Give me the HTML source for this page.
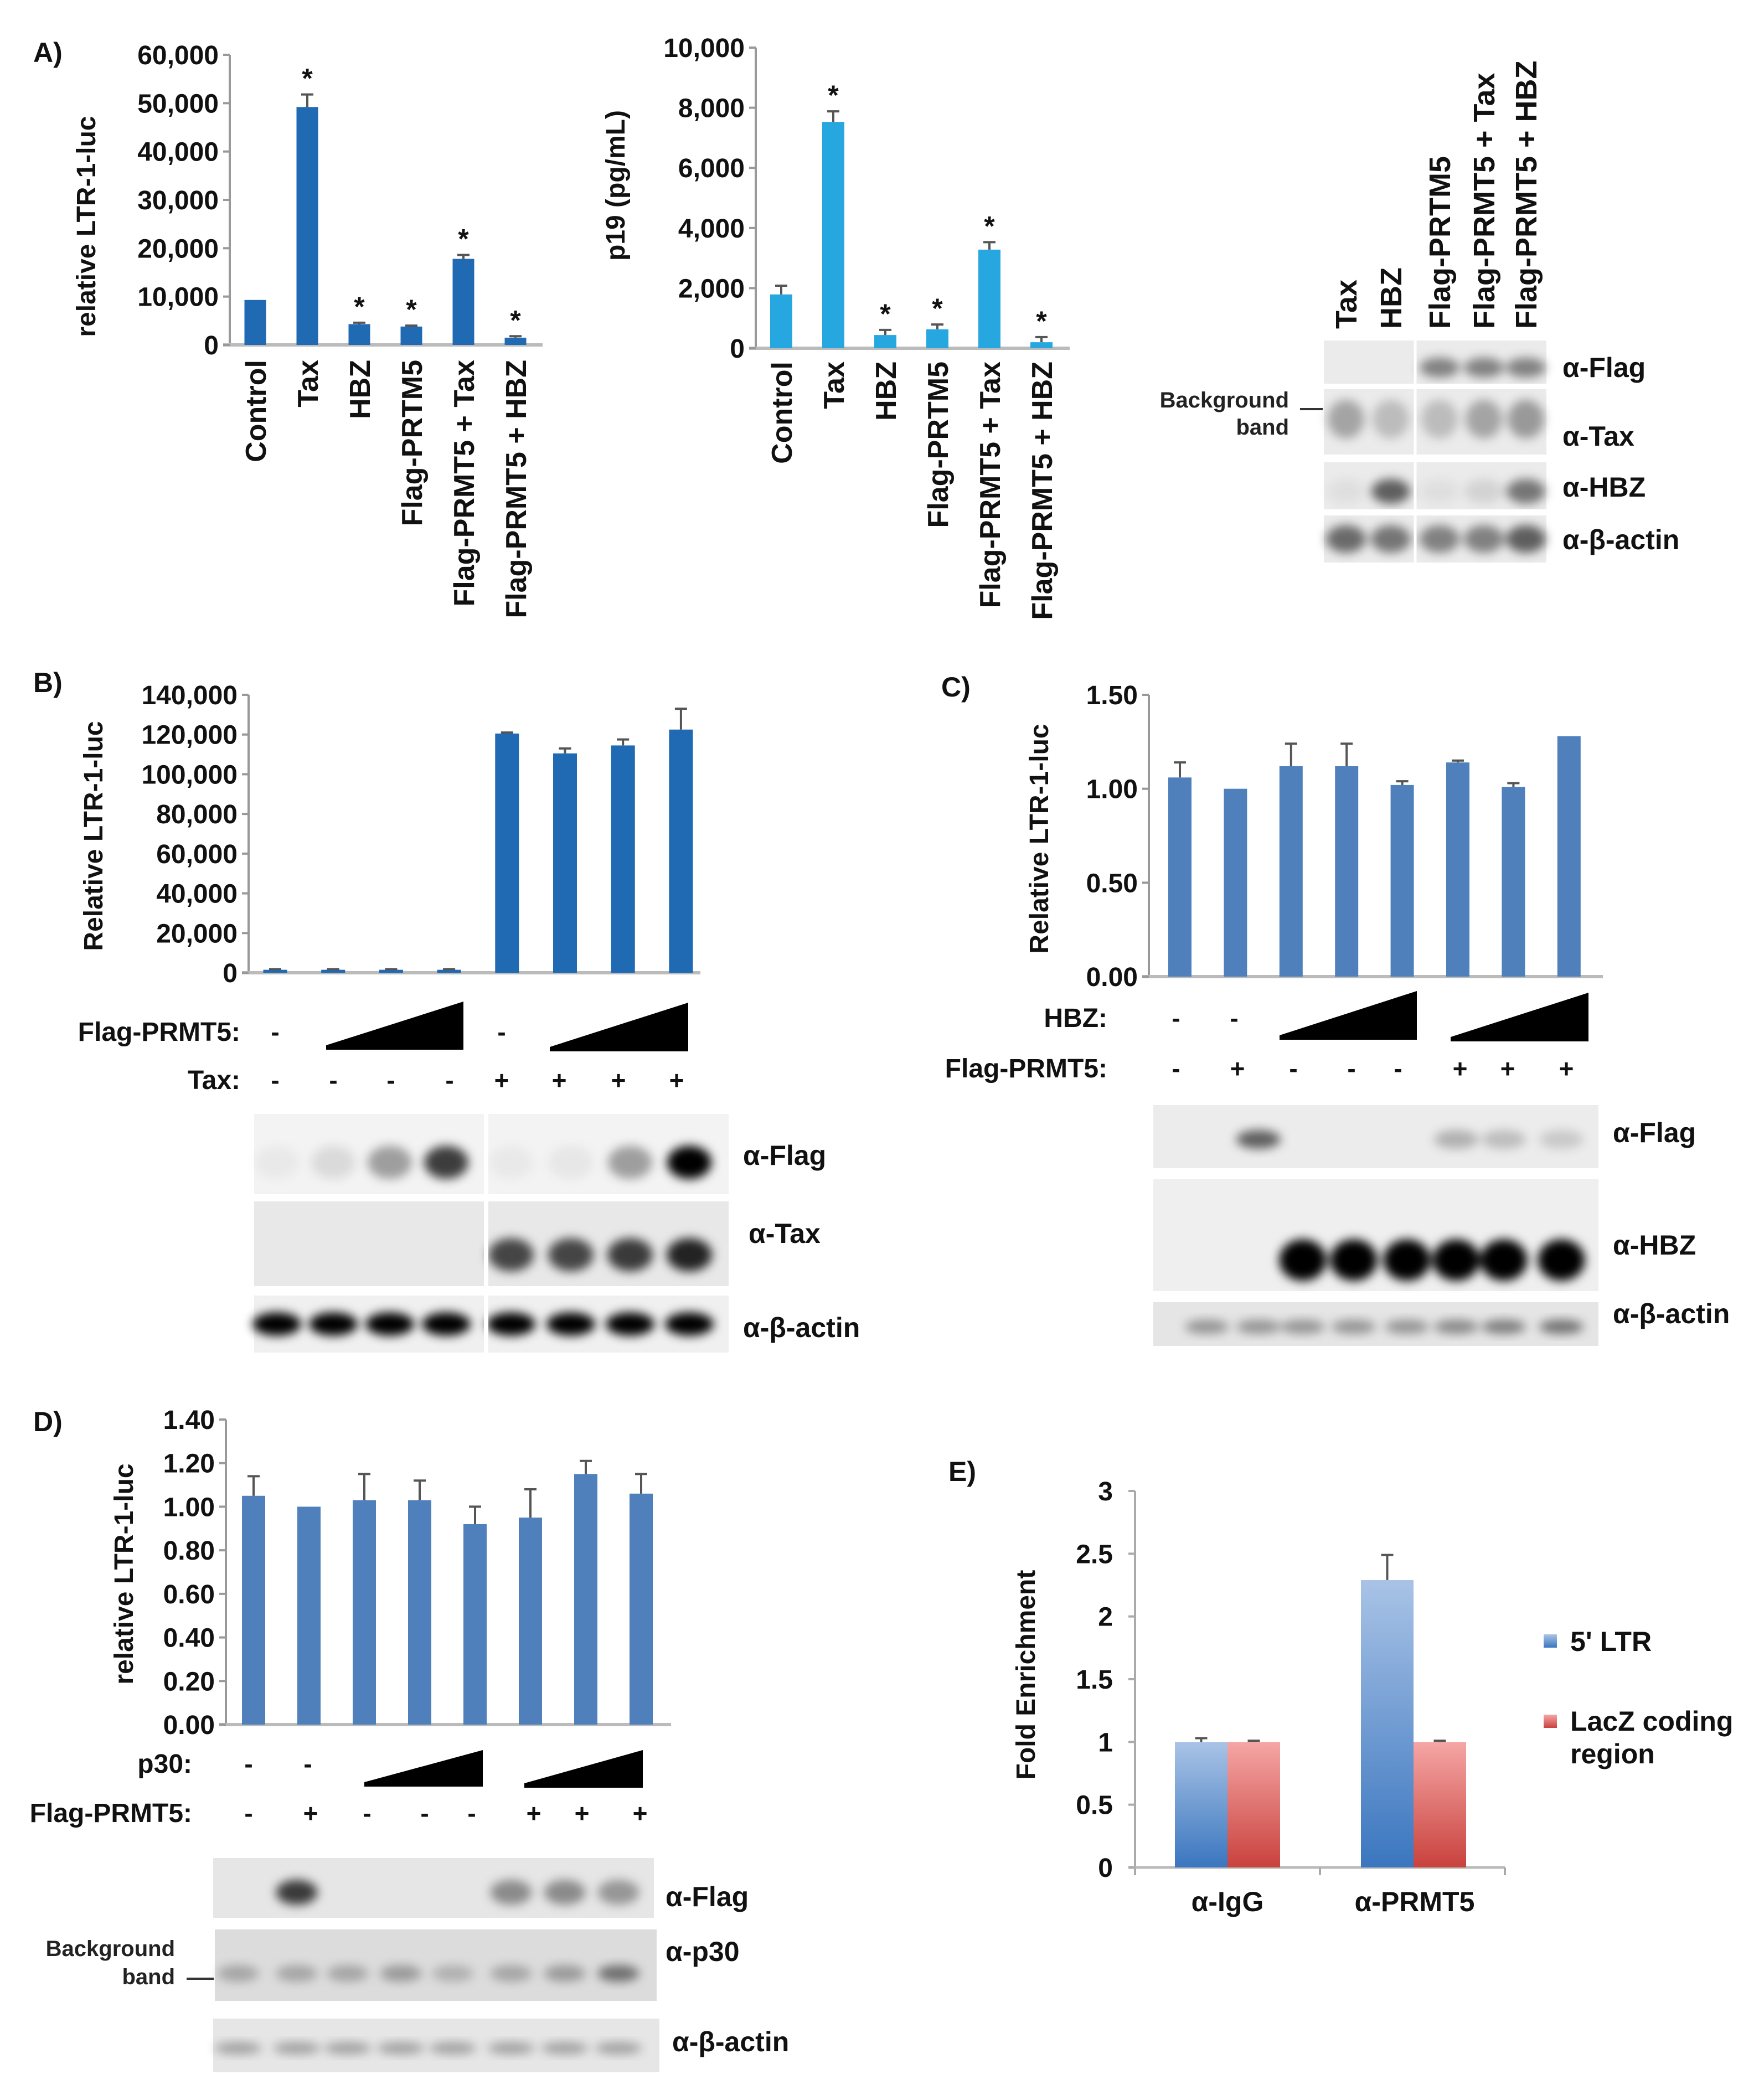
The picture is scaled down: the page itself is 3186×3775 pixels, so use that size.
<!DOCTYPE html>
<html><head><meta charset="utf-8"><style>
html,body{margin:0;padding:0;background:#fff;}
svg{display:block;font-family:"Liberation Sans",Arial,sans-serif;font-weight:bold;}
</style></head><body>
<svg id="fig" xmlns="http://www.w3.org/2000/svg" width="3186" height="3775" viewBox="0 0 3186 3775">
<defs>
<filter id="blur" x="-50%" y="-50%" width="200%" height="200%"><feGaussianBlur stdDeviation="9"/></filter>
<linearGradient id="gBlue" x1="0" y1="0" x2="0" y2="1"><stop offset="0" stop-color="#a9c3e6"/><stop offset="1" stop-color="#3a76bf"/></linearGradient>
<linearGradient id="gRed" x1="0" y1="0" x2="0" y2="1"><stop offset="0" stop-color="#f5a6a5"/><stop offset="1" stop-color="#c9423d"/></linearGradient>
</defs>
<g font-size="50" fill="#111">
<text x="60" y="112">A)</text>
<text x="60" y="1250">B)</text>
<text x="1700" y="1258">C)</text>
<text x="60" y="2585">D)</text>
<text x="1713" y="2675">E)</text>
</g>
<g font-size="48" fill="#111" text-anchor="middle">
<text transform="translate(172,409) rotate(-90)">relative LTR-1-luc</text>
<text transform="translate(1128,335) rotate(-90)">p19 (pg/mL)</text>
<text transform="translate(185,1510) rotate(-90)">Relative  LTR-1-luc</text>
<text transform="translate(1893,1515) rotate(-90)">Relative LTR-1-luc</text>
<text transform="translate(240,2843) rotate(-90)">relative LTR-1-luc</text>
<text transform="translate(1869,3025) rotate(-90)">Fold Enrichment</text>
</g>
<g font-size="48" fill="#111" text-anchor="end">
<text x="434" y="1880">Flag-PRMT5:</text>
<text x="434" y="1967">Tax:</text>
<text x="2000" y="1855">HBZ:</text>
<text x="2000" y="1946">Flag-PRMT5:</text>
<text x="347" y="3202">p30:</text>
<text x="347" y="3291">Flag-PRMT5:</text>
</g>
<g font-size="50" fill="#111">
<text x="2822" y="681">α-Flag</text>
<text x="2822" y="805">α-Tax</text>
<text x="2822" y="897">α-HBZ</text>
<text x="2822" y="992">α-β-actin</text>
<text x="1342" y="2104">α-Flag</text>
<text x="1352" y="2245">α-Tax</text>
<text x="1342" y="2415">α-β-actin</text>
<text x="2913" y="2063">α-Flag</text>
<text x="2913" y="2266">α-HBZ</text>
<text x="2913" y="2390">α-β-actin</text>
<text x="1202" y="3443">α-Flag</text>
<text x="1202" y="3542">α-p30</text>
<text x="1214" y="3705">α-β-actin</text>
</g>
<g font-size="40" fill="#222" text-anchor="end">
<text x="2328" y="736">Background</text>
<text x="2328" y="785">band</text>
<text x="316" y="3533">Background</text>
<text x="316" y="3584">band</text>
</g>
<line x1="2348" y1="739" x2="2389" y2="739" stroke="#333" stroke-width="4"/>
<line x1="337" y1="3574" x2="386" y2="3574" stroke="#333" stroke-width="4"/>
<g font-size="50" fill="#111">
<rect x="2788" y="2952" width="24" height="24" fill="url(#gBlue)"/>
<text x="2836" y="2982">5' LTR</text>
<rect x="2788" y="3097" width="24" height="24" fill="url(#gRed)"/>
<text x="2836" y="3126">LacZ coding</text>
<text x="2836" y="3185">region</text>
</g>
<g id="charts"></g>
</svg>
<script>
const NS='http://www.w3.org/2000/svg';
// ---- data ----
const aCats=['Control','Tax','HBZ','Flag-PRTM5','Flag-PRMT5 + Tax','Flag-PRMT5 + HBZ'];
const aLucVals=[9300,49200,4300,3800,17800,1500];
const aLucErr=[9300,51800,4600,4000,18600,1800];
const aLucStars=[0,1,1,1,1,1];
const aLucTicks=[0,10000,20000,30000,40000,50000,60000];
const aLucTickLabels=['0','10,000','20,000','30,000','40,000','50,000','60,000'];
const aP19Vals=[1790,7530,440,630,3280,200];
const aP19Err=[2080,7880,610,790,3530,370];
const aP19Stars=[0,1,1,1,1,1];
const aP19Ticks=[0,2000,4000,6000,8000,10000];
const aP19TickLabels=['0','2,000','4,000','6,000','8,000','10,000'];
const bVals=[1500,1500,1500,1500,120500,110500,114500,122500];
const bErr=[1800,1800,1800,1800,121000,113000,117500,133000];
const bTicks=[0,20000,40000,60000,80000,100000,120000,140000];
const bTickLabels=['0','20,000','40,000','60,000','80,000','100,000','120,000','140,000'];
const bFlagSigns=['-','','','','-','','',''];
const bTaxSigns=['-','-','-','-','+','+','+','+'];
const cVals=[1.06,1.00,1.12,1.12,1.02,1.14,1.01,1.28];
const cErr=[1.14,1.00,1.24,1.24,1.04,1.15,1.03,1.28];
const cTicks=[0,0.5,1.0,1.5];
const cTickLabels=['0.00','0.50','1.00','1.50'];
const cHbzSigns=['-','-','','','','','',''];
const cFlagSigns=['-','+','-','-','-','+','+','+'];
const dVals=[1.05,1.00,1.03,1.03,0.92,0.95,1.15,1.06];
const dErr=[1.14,1.00,1.15,1.12,1.00,1.08,1.21,1.15];
const dTicks=[0,0.2,0.4,0.6,0.8,1.0,1.2,1.4];
const dTickLabels=['0.00','0.20','0.40','0.60','0.80','1.00','1.20','1.40'];
const dP30Signs=['-','-','','','','','',''];
const dFlagSigns=['-','+','-','-','-','+','+','+'];
const eGroups=['α-IgG','α-PRMT5'];
const eLTR=[1.0,2.29];
const eLTRErr=[1.03,2.49];
const eLacZ=[1.0,1.0];
const eLacZErr=[1.01,1.01];
const eTicks=[0,0.5,1,1.5,2,2.5,3];
const eTickLabels=['0','0.5','1','1.5','2','2.5','3'];
const aBlotLanes=['Tax','HBZ','Flag-PRTM5','Flag-PRMT5 + Tax','Flag-PRMT5 + HBZ'];

const root=document.getElementById('charts');
function mk(tag,attrs,parent){const e=document.createElementNS(NS,tag);for(const k in attrs)e.setAttribute(k,attrs[k]);(parent||root).appendChild(e);return e;}
function txt(x,y,s,size,anchor,parent,rot){const t=mk('text',{x:x,y:y,'font-size':size,'text-anchor':anchor,fill:'#111'},parent);if(rot)t.setAttribute('transform','rotate(-90 '+x+' '+y+')');t.textContent=s;return t;}

function barChart(pfx,c){
  const g=mk('g',{});
  
  
  const y=v=>c.y0-(v/c.max)*(c.y0-c.yTop);
  const ax=mk('line',{x1:c.ax,y1:c.yTop,x2:c.ax,y2:c.y0,stroke:'#999','stroke-width':4},g);
  
  
  const base=mk('line',{x1:c.ax-12,y1:c.y0,x2:c.baseEnd,y2:c.y0,stroke:'#bbb','stroke-width':6},g);
  
  
  c.ticks.forEach((t,i)=>{
    const tk=mk('line',{x1:c.ax-12,y1:y(t),x2:c.ax,y2:y(t),stroke:'#999','stroke-width':4},g);
    
    
    const tl=txt(c.ax-20,y(t)+17,c.tickLabels[i],48,'end',g);
    
    
  });
  c.vals.forEach((v,i)=>{
    const cx=c.x0+i*c.step;
    const b=mk('rect',{x:cx-c.bw/2,y:y(v),width:c.bw,height:c.y0-y(v),fill:c.color},g);
    
    
    const e=c.errs[i];
    if(e>v){
      const el=mk('path',{d:'M'+cx+' '+y(v)+'V'+y(e)+'M'+(cx-11)+' '+y(e)+'H'+(cx+11),stroke:'#555','stroke-width':4,fill:'none'},g);
      
      
    }
    if(c.stars&&c.stars[i]){
      const s=txt(cx,y(e)-12,'*',50,'middle',g);
      
      
    }
    if(c.cats){
      const cl=txt(cx+19,c.catY,c.cats[i],52,'end',g,true);
      
      
    }
  });
}
barChart('a-luc',{ax:415,y0:623,yTop:99,max:60000,ticks:aLucTicks,tickLabels:aLucTickLabels,x0:461,step:94,bw:39,color:'#1f6ab3',vals:aLucVals,errs:aLucErr,stars:aLucStars,baseEnd:980,cats:aCats,catY:650});
barChart('a-p19',{ax:1365,y0:629,yTop:86,max:10000,ticks:aP19Ticks,tickLabels:aP19TickLabels,x0:1411,step:94,bw:40,color:'#27a7df',vals:aP19Vals,errs:aP19Err,stars:aP19Stars,baseEnd:1932,cats:aCats,catY:653});
barChart('b',{ax:449,y0:1757,yTop:1255,max:140000,ticks:bTicks,tickLabels:bTickLabels,x0:497,step:104.7,bw:43,color:'#1f6ab3',vals:bVals,errs:bErr,baseEnd:1265});
barChart('c',{ax:2075,y0:1764,yTop:1255,max:1.5,ticks:cTicks,tickLabels:cTickLabels,x0:2131,step:100.4,bw:42,color:'#4f80bc',vals:cVals,errs:cErr,baseEnd:2895});
barChart('d',{ax:408,y0:3115,yTop:2564,max:1.4,ticks:dTicks,tickLabels:dTickLabels,x0:458,step:100,bw:42,color:'#4f80bc',vals:dVals,errs:dErr,baseEnd:1212});

(function(){
  const g=mk('g',{});
  
  
  const y0=3373,yTop=2693,max=3,ax=2050;
  const y=v=>y0-(v/max)*(y0-yTop);
  const a=mk('line',{x1:ax,y1:yTop,x2:ax,y2:y0,stroke:'#aaa','stroke-width':4},g);
  
  
  const b=mk('line',{x1:ax-12,y1:y0,x2:2718,y2:y0,stroke:'#bbb','stroke-width':5},g);
  
  
  [ax,2384,2718].forEach(x=>{const t=mk('line',{x1:x,y1:y0,x2:x,y2:y0+14,stroke:'#aaa','stroke-width':4},g);
    
    });
  eTicks.forEach((t,i)=>{
    const tk=mk('line',{x1:ax-12,y1:y(t),x2:ax,y2:y(t),stroke:'#aaa','stroke-width':4},g);
    
    
    const tl=txt(ax-40,y(t)+17,eTickLabels[i],48,'end',g);
    
    
  });
  eGroups.forEach((nm,i)=>{
    const cx=2217+i*336, bw=95;
    const series=[[eLTR,eLTRErr,'url(#gBlue)',cx-bw/2,'5ltr'],[eLacZ,eLacZErr,'url(#gRed)',cx+bw/2,'lacz']];
    series.forEach(s=>{
      const v=s[0][i],e=s[1][i],bx=s[3];
      const r=mk('rect',{x:bx-bw/2,y:y(v),width:bw,height:y0-y(v),fill:s[2]},g);
      
      
      const el=mk('path',{d:'M'+bx+' '+y(v)+'V'+y(e)+'M'+(bx-11)+' '+y(e)+'H'+(bx+11),stroke:'#555','stroke-width':4,fill:'none'},g);
      
      
    });
    const l=txt(cx+(i?2:0),3452,nm,50,'middle',g);
    
    
  });
})();

function signRow(pfx,xs,signs,yy){
  signs.forEach((s,i)=>{ if(!s) return;
    const t=txt(xs[i],yy,s,46,'middle');
    
    
  });
}
function tri(name,x1,x2,top,bot){
  const p=mk('polygon',{points:x1+','+bot+' '+x2+','+bot+' '+x2+','+top+' '+x2+','+top+' '+(x1)+','+(bot-8),fill:'#000'});
  
  
}
signRow('b-flag',[497,602,706,812,906,1010,1117,1222],bFlagSigns,1880);
signRow('b-tax',[497,602,706,812,906,1010,1117,1222],bTaxSigns,1967);
tri('b-prmt5-gradient-1',589,837,1809,1896);
tri('b-prmt5-gradient-2',993,1243,1811,1899);
signRow('c-hbz',[2124,2229],cHbzSigns,1855);
signRow('c-flag',[2124,2235,2336,2441,2525,2637,2723,2829],cFlagSigns,1946);
tri('c-hbz-gradient-1',2311,2559,1790,1878);
tri('c-hbz-gradient-2',2620,2869,1793,1881);
signRow('d-p30',[449,556],dP30Signs,3202);
signRow('d-flag',[449,561,663,767,852,964,1051,1156],dFlagSigns,3291);
tri('d-p30-gradient-1',658,872,3161,3227);
tri('d-p30-gradient-2',947,1161,3161,3229);

function blot(name,x,yy,w,h,lanes,ints,bw,bh,dy,bg){
  const g=mk('g',{});
  
  
  mk('rect',{x:x,y:yy,width:w,height:h,fill:bg||'#ebebeb'},g);
  const gb=mk('g',{filter:'url(#blur)'},g);
  lanes.forEach((lx,i)=>{ if(ints[i]<=0) return;
    mk('ellipse',{cx:lx,cy:yy+h/2+(dy||0),rx:bw/2,ry:bh/2,fill:'#000','fill-opacity':ints[i]},gb);
  });
}
const aL=[2431,2512,2600,2680,2756];
blot('a-blot-flag',2391,615,402,78,aL,[0,0,.45,.45,.45],72,36,10);
blot('a-blot-tax',2391,703,402,118,aL,[.3,.2,.2,.3,.35],66,70,-5);
blot('a-blot-hbz',2391,835,402,85,aL,[.05,.6,.05,.1,.5],70,45,10);
blot('a-blot-actin',2391,931,402,85,aL,[.55,.5,.45,.45,.6],72,50,0);
mk('line',{x1:2556,y1:612,x2:2556,y2:1018,stroke:'#fff','stroke-width':5});
mk('rect',{x:2391,y:693,width:402,height:10,fill:'#fff'});
mk('rect',{x:2391,y:821,width:402,height:14,fill:'#fff'});
mk('rect',{x:2391,y:920,width:402,height:11,fill:'#fff'});
aBlotLanes.forEach((s,i)=>{
  const t=txt(aL[i]+19,594,s,54,'start',null,true);
  
  
});
const bL=[500,602,704,806,923,1031,1138,1245];
blot('b-blot-flag',459,2012,857,145,bL,[.04,.1,.35,.75,.04,.05,.35,1],80,60,15,'#f3f3f3');
blot('b-blot-tax',459,2170,857,153,bL,[0,0,0,0,.7,.7,.75,.85],82,60,20,'#e8e8e8');
blot('b-blot-actin',459,2340,857,103,bL,[1,1,1,1,1,1,1,1],88,42,0,'#f0f0f0');
mk('rect',{x:874,y:2005,width:8,height:445,fill:'#fff'});
const cL=[2180,2273,2353,2445,2541,2630,2716,2820];
blot('c-blot-flag',2083,1996,804,114,cL,[0,.6,0,0,0,.25,.2,.15],80,34,5,'#ececec');
blot('c-blot-hbz',2083,2130,804,202,cL,[0,0,1,1,1,1,1,1],85,75,45,'#efefef');
blot('c-blot-actin',2083,2352,804,79,cL,[.35,.35,.35,.35,.35,.4,.45,.5],80,26,5,'#e5e5e5');
const dL=[430,536,628,724,818,923,1020,1117];
blot('d-blot-flag',385,3356,796,108,dL,[0,.75,0,0,0,.4,.4,.35],75,45,8,'#e6e6e6');
blot('d-blot-p30',388,3485,798,129,dL,[.25,.25,.25,.3,.2,.25,.3,.5],75,30,15,'#dcdcdc');
blot('d-blot-actin',385,3646,806,97,dL,[.3,.3,.3,.3,.3,.3,.3,.3],85,22,5,'#e6e6e6');
</script>
</body></html>
